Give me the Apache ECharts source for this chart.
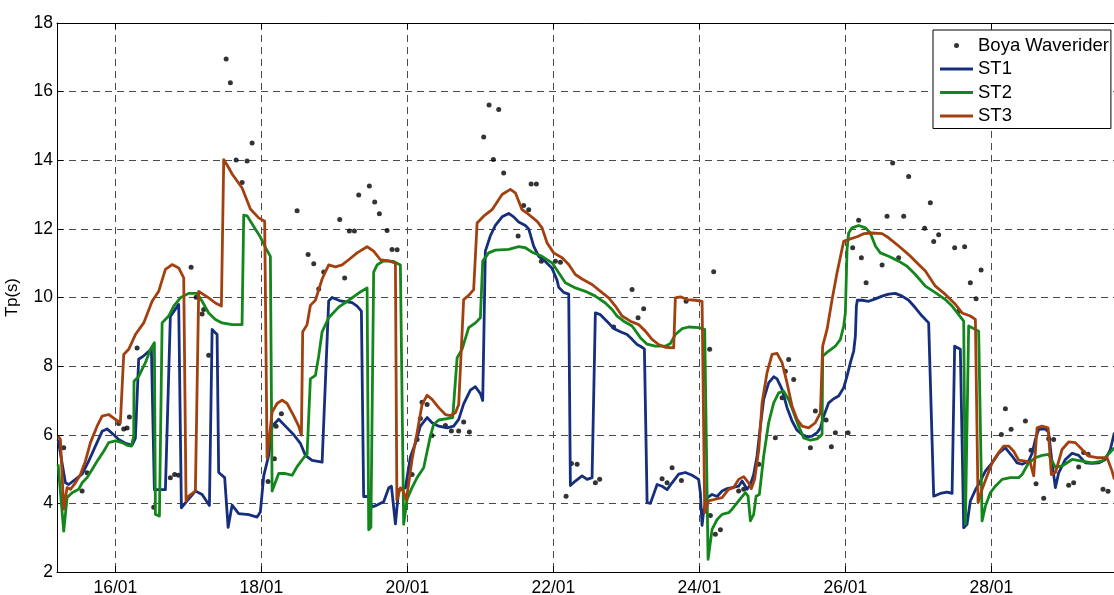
<!DOCTYPE html>
<html>
<head>
<meta charset="utf-8">
<title>Tp(s)</title>
<script src="https://cdn.jsdelivr.net/npm/echarts@6/dist/echarts.min.js"></script>
<style>
  html, body { margin: 0; padding: 0; background: #fff; }
  #chart { width: 1114px; height: 595px; }
</style>
</head>
<body>
<div id="chart"></div>
<script>
// Peak period Tp (s) in January; x values are day of month (fractional days).
const tickDays = [16, 18, 20, 22, 24, 26, 28];
const dayMin = 15.2;
const dayMax = 29.68;

// Buoy observations [day, Tp]
const buoy = [
  [15.292,5.62],[15.544,4.36],[15.612,4.89],[16.045,6.33],[16.114,6.17],[16.160,6.2],[16.192,6.52],
  [16.297,8.53],[16.525,3.89],[16.753,4.75],[16.812,4.84],[16.867,4.82],[17.037,10.88],[17.106,10.01],
  [17.188,9.52],[17.210,9.65],[17.278,8.32],[17.517,16.95],[17.575,16.26],[17.654,14.01],[17.736,13.35],
  [17.804,13.98],[17.873,14.5],[18.092,4.64],[18.178,5.3],[18.201,6.25],[18.274,6.61],[18.489,12.53],
  [18.640,11.25],[18.717,10.98],[18.785,10.25],[18.854,10.74],[19.073,12.27],[19.141,10.57],[19.205,11.94],
  [19.274,11.94],[19.333,12.99],[19.479,13.25],[19.552,12.78],[19.616,12.44],[19.722,11.95],[19.790,11.4],
  [19.859,11.39],[20.064,4.84],[20.133,5.86],[20.178,6.47],[20.201,6.95],[20.270,6.88],[20.338,5.98],
  [20.521,6.27],[20.603,6.11],[20.703,6.11],[20.771,6.37],[20.849,6.08],[21.045,14.68],[21.119,15.61],
  [21.178,14.02],[21.251,15.48],[21.319,13.63],[21.517,11.79],[21.593,12.68],[21.662,12.56],[21.695,13.31],
  [21.767,13.31],[21.836,11.06],[22.027,11.06],[22.096,11.03],[22.174,4.21],[22.247,5.16],[22.325,5.14],
  [22.575,4.6],[22.634,4.7],[22.826,9.14],[23.078,10.23],[23.160,9.41],[23.237,9.67],[23.489,4.72],
  [23.558,4.6],[23.626,5.04],[23.754,4.67],[23.818,9.89],[24.141,8.49],[24.151,3.65],[24.196,10.75],
  [24.219,3.1],[24.288,3.23],[24.538,4.36],[24.607,4.41],[24.814,5.14],[25.041,5.91],[25.133,7.08],
  [25.178,7.85],[25.223,8.19],[25.292,7.61],[25.521,5.62],[25.589,6.69],[25.736,6.43],[25.808,5.65],
  [25.863,6.06],[26.037,6.06],[26.100,11.45],[26.182,12.25],[26.219,11.16],[26.284,10.43],[26.503,10.95],
  [26.571,12.37],[26.648,13.92],[26.730,11.16],[26.799,12.37],[26.867,13.53],[27.086,12.02],[27.164,12.76],
  [27.210,11.63],[27.278,11.83],[27.497,11.45],[27.552,9.6],[27.634,11.48],[27.712,10.43],[27.791,9.96],
  [27.859,10.8],[28.137,6.01],[28.192,6.76],[28.270,6.16],[28.466,6.4],[28.544,5.55],[28.612,4.57],
  [28.717,4.15],[28.785,5.88],[28.853,5.86],[29.059,4.53],[29.127,4.6],[29.196,5.06],[29.264,5.48],
  [29.325,5.43],[29.530,4.41],[29.598,4.35],[29.685,9.02]
];

// Model run ST1 [day, Tp]
const st1 = [
  [15.215,5.86],[15.315,4.6],[15.36,4.55],[15.452,4.7],[15.544,4.85],[15.634,5.23],[15.726,5.67],
  [15.818,6.1],[15.886,6.17],[15.977,6.0],[16.045,5.86],[16.137,5.75],[16.229,5.7],[16.274,5.9],
  [16.319,8.2],[16.388,8.3],[16.493,8.5],[16.534,4.4],[16.685,4.4],[16.753,9.45],[16.867,9.8],
  [16.904,3.87],[16.982,4.07],[17.096,4.36],[17.188,4.26],[17.288,3.94],[17.325,9.07],[17.393,8.92],
  [17.415,4.9],[17.497,4.75],[17.544,3.3],[17.599,3.95],[17.689,3.7],[17.826,3.67],[17.941,3.6],
  [17.986,3.75],[18.032,4.8],[18.1,5.4],[18.147,6.25],[18.237,6.45],[18.352,6.2],[18.443,6.0],
  [18.534,5.75],[18.603,5.4],[18.695,5.25],[18.832,5.2],[18.922,9.9],[18.968,10.0],[19.082,9.9],
  [19.243,9.85],[19.311,9.75],[19.37,9.6],[19.401,4.2],[19.462,4.2],[19.517,3.9],[19.585,3.95],
  [19.675,4.05],[19.744,4.45],[19.781,4.5],[19.836,3.4],[19.881,4.4],[19.973,4.45],[20.041,5.35],
  [20.11,5.75],[20.178,6.25],[20.27,6.5],[20.338,6.35],[20.429,6.25],[20.544,6.2],[20.634,6.25],
  [20.703,6.45],[20.771,6.9],[20.863,7.3],[20.932,7.4],[21.0,7.2],[21.032,7.0],[21.068,11.35],
  [21.137,11.8],[21.205,12.1],[21.297,12.35],[21.388,12.45],[21.456,12.35],[21.525,12.2],[21.616,12.1],
  [21.662,12.0],[21.73,11.5],[21.799,11.2],[21.89,11.05],[21.982,10.85],[22.051,10.5],[22.073,10.3],
  [22.141,10.15],[22.21,10.1],[22.233,4.52],[22.301,4.65],[22.393,4.8],[22.462,4.7],[22.53,4.75],
  [22.575,9.55],[22.644,9.5],[22.736,9.3],[22.826,9.1],[22.918,9.0],[23.01,8.92],[23.078,8.78],
  [23.147,8.63],[23.192,8.58],[23.247,8.5],[23.284,4.02],[23.329,4.0],[23.421,4.55],[23.489,4.5],
  [23.558,4.4],[23.626,4.6],[23.717,4.85],[23.808,4.9],[23.9,4.82],[23.99,4.7],[24.014,4.3],
  [24.037,3.36],[24.059,3.78],[24.106,4.16],[24.174,4.26],[24.243,4.2],[24.311,4.36],[24.38,4.43],
  [24.448,4.46],[24.538,4.5],[24.585,4.65],[24.654,4.41],[24.699,4.55],[24.744,4.84],[24.79,5.38],
  [24.836,6.25],[24.881,7.03],[24.949,7.51],[25.018,7.69],[25.064,7.63],[25.133,7.32],[25.201,6.79],
  [25.27,6.4],[25.338,6.13],[25.407,6.01],[25.475,5.94],[25.544,5.96],[25.612,6.06],[25.658,6.2],
  [25.703,6.54],[25.771,6.93],[25.84,7.05],[25.908,7.13],[25.977,7.37],[26.023,7.71],[26.069,8.1],
  [26.114,8.44],[26.137,8.87],[26.151,9.75],[26.164,9.92],[26.229,9.92],[26.319,9.89],[26.411,9.96],
  [26.503,10.04],[26.593,10.1],[26.685,10.12],[26.777,10.04],[26.867,9.92],[26.959,9.7],[27.051,9.46],
  [27.141,9.26],[27.21,4.21],[27.301,4.29],[27.393,4.33],[27.462,4.29],[27.497,8.58],[27.575,8.49],
  [27.621,3.29],[27.667,3.39],[27.712,4.07],[27.781,4.39],[27.849,4.65],[27.918,4.94],[28.01,5.18],
  [28.1,5.46],[28.192,5.62],[28.284,5.38],[28.352,5.18],[28.421,5.14],[28.511,5.23],[28.558,5.46],
  [28.603,5.86],[28.648,6.16],[28.74,6.17],[28.785,6.06],[28.832,5.18],[28.877,4.46],[28.922,4.89],
  [29.014,5.28],[29.106,5.46],[29.196,5.4],[29.288,5.18],[29.38,5.17],[29.47,5.18],[29.562,5.28],
  [29.63,5.57],[29.685,6.06]
];

// Model run ST2 [day, Tp]
const st2 = [
  [15.215,5.14],[15.292,3.19],[15.338,4.17],[15.407,4.31],[15.497,4.41],[15.544,4.6],[15.612,4.75],
  [15.681,4.99],[15.749,5.23],[15.84,5.52],[15.908,5.77],[16.0,5.82],[16.092,5.77],[16.16,5.69],
  [16.219,5.67],[16.251,5.96],[16.255,7.56],[16.319,7.7],[16.411,8.1],[16.48,8.49],[16.534,8.68],
  [16.548,3.68],[16.603,3.63],[16.64,9.26],[16.73,9.46],[16.799,9.75],[16.89,9.99],[17.004,10.12],
  [17.119,10.12],[17.188,9.89],[17.278,9.55],[17.37,9.36],[17.462,9.26],[17.599,9.21],[17.735,9.21],
  [17.758,12.4],[17.804,12.38],[17.895,12.07],[17.986,11.76],[18.055,11.46],[18.123,11.2],[18.147,4.36],
  [18.237,4.87],[18.329,4.87],[18.421,4.82],[18.489,5.07],[18.58,5.33],[18.626,5.43],[18.671,7.63],
  [18.74,7.73],[18.785,8.29],[18.832,9.0],[18.922,9.41],[19.059,9.72],[19.196,9.92],[19.333,10.13],
  [19.448,10.28],[19.47,3.23],[19.5,3.3],[19.538,10.74],[19.585,10.95],[19.675,11.07],[19.812,11.05],
  [19.904,10.95],[19.949,3.39],[19.996,4.12],[20.064,4.46],[20.133,4.75],[20.223,5.04],[20.315,5.96],
  [20.36,6.3],[20.429,6.43],[20.544,6.47],[20.621,6.5],[20.681,8.24],[20.749,8.49],[20.84,9.12],
  [20.932,9.26],[21.0,9.41],[21.032,11.06],[21.114,11.3],[21.205,11.38],[21.388,11.4],[21.525,11.48],
  [21.616,11.45],[21.708,11.32],[21.845,11.2],[21.982,11.01],[22.073,10.72],[22.164,10.43],[22.301,10.28],
  [22.438,10.18],[22.575,10.04],[22.712,9.84],[22.804,9.65],[22.873,9.46],[22.963,9.31],[23.078,9.17],
  [23.192,8.83],[23.284,8.64],[23.397,8.58],[23.534,8.58],[23.603,8.66],[23.671,8.92],[23.763,9.09],
  [23.853,9.14],[23.99,9.12],[24.073,9.07],[24.119,2.37],[24.174,3.24],[24.243,3.53],[24.311,3.68],
  [24.401,3.73],[24.448,3.83],[24.538,4.07],[24.63,4.31],[24.667,4.21],[24.699,3.49],[24.744,3.68],
  [24.777,4.21],[24.822,4.26],[24.881,5.38],[24.949,6.35],[25.018,6.93],[25.086,7.22],[25.155,7.27],
  [25.223,7.03],[25.292,6.64],[25.36,6.25],[25.429,5.91],[25.521,5.84],[25.612,5.88],[25.681,6.01],
  [25.689,8.29],[25.771,8.44],[25.863,8.58],[25.932,8.78],[25.977,9.17],[26.0,9.55],[26.023,11.4],
  [26.045,11.88],[26.092,12.03],[26.182,12.1],[26.274,12.03],[26.342,11.88],[26.411,11.5],[26.479,11.3],
  [26.593,11.2],[26.73,11.06],[26.845,10.91],[26.959,10.67],[27.096,10.33],[27.233,10.14],[27.37,9.94],
  [27.462,9.75],[27.552,9.5],[27.621,9.31],[27.644,3.39],[27.689,9.17],[27.826,9.02],[27.873,3.49],
  [27.918,3.92],[27.986,4.31],[28.055,4.5],[28.147,4.7],[28.26,4.75],[28.374,4.75],[28.421,4.84],
  [28.511,5.18],[28.603,5.33],[28.695,5.4],[28.785,5.43],[28.877,5.05],[28.968,5.09],[29.106,5.28],
  [29.242,5.23],[29.38,5.18],[29.517,5.23],[29.685,5.62]
];

// Model run ST3 [day, Tp]
const st3 = [
  [15.215,5.96],[15.247,5.86],[15.292,3.83],[15.338,4.46],[15.384,4.41],[15.452,4.6],[15.521,4.84],
  [15.589,5.23],[15.658,5.77],[15.749,6.25],[15.818,6.54],[15.908,6.59],[16.0,6.45],[16.068,6.35],
  [16.114,8.34],[16.182,8.49],[16.274,8.92],[16.388,9.26],[16.503,9.89],[16.593,10.18],[16.685,10.82],
  [16.777,10.96],[16.867,10.86],[16.936,10.57],[16.968,4.07],[17.004,4.21],[17.096,4.36],[17.141,10.18],
  [17.278,9.99],[17.37,9.84],[17.452,9.75],[17.484,14.02],[17.552,13.78],[17.599,13.6],[17.736,13.19],
  [17.849,12.58],[17.963,12.32],[18.045,12.22],[18.078,5.33],[18.147,6.66],[18.215,6.91],[18.284,7.01],
  [18.352,6.91],[18.443,6.55],[18.511,6.25],[18.548,5.99],[18.566,9.0],[18.626,9.21],[18.671,9.77],
  [18.74,9.92],[18.832,10.54],[18.922,10.95],[19.014,10.89],[19.106,10.95],[19.196,11.1],[19.311,11.3],
  [19.448,11.48],[19.538,11.35],[19.63,11.1],[19.744,11.07],[19.836,11.0],[19.856,4.1],[19.904,4.45],
  [19.945,4.35],[19.986,4.1],[20.064,5.28],[20.133,6.06],[20.201,6.88],[20.27,7.15],[20.338,7.03],
  [20.429,6.79],[20.521,6.59],[20.589,6.56],[20.658,6.64],[20.703,6.88],[20.771,9.94],[20.84,10.06],
  [20.908,10.23],[20.955,12.17],[21.045,12.37],[21.16,12.56],[21.297,13.0],[21.411,13.15],[21.479,13.05],
  [21.571,12.56],[21.662,12.42],[21.777,12.22],[21.845,12.03],[21.914,11.59],[22.004,11.3],[22.119,11.16],
  [22.21,10.96],[22.301,10.67],[22.393,10.54],[22.53,10.38],[22.667,10.14],[22.758,9.99],[22.849,9.75],
  [22.941,9.46],[23.055,9.31],[23.168,9.21],[23.26,9.02],[23.352,8.78],[23.442,8.63],[23.534,8.55],
  [23.648,8.53],[23.671,9.99],[23.74,10.02],[23.832,9.94],[23.945,9.92],[24.037,9.89],[24.073,3.73],
  [24.127,4.07],[24.219,4.12],[24.311,4.17],[24.401,4.41],[24.47,4.46],[24.538,4.7],[24.607,4.78],
  [24.675,4.6],[24.712,4.43],[24.757,4.7],[24.814,5.57],[24.859,6.93],[24.927,7.81],[24.996,8.34],
  [25.064,8.37],[25.133,8.1],[25.201,7.51],[25.27,6.83],[25.338,6.45],[25.407,6.25],[25.497,6.2],
  [25.589,6.35],[25.658,6.64],[25.689,8.58],[25.749,9.07],[25.818,9.94],[25.886,10.72],[25.977,11.64],
  [26.069,11.71],[26.16,11.77],[26.251,11.86],[26.366,11.88],[26.503,11.86],[26.593,11.74],[26.73,11.5],
  [26.867,11.25],[27.004,10.96],[27.096,10.77],[27.233,10.33],[27.37,10.09],[27.507,9.8],[27.599,9.55],
  [27.712,9.46],[27.781,9.36],[27.818,4.02],[27.873,4.41],[27.941,4.8],[28.01,5.18],[28.1,5.48],
  [28.169,5.67],[28.237,5.67],[28.306,5.52],[28.374,5.26],[28.466,5.23],[28.534,5.18],[28.58,4.8],
  [28.626,6.2],[28.695,6.25],[28.777,6.2],[28.822,4.84],[28.877,4.89],[28.968,5.57],[29.059,5.79],
  [29.151,5.77],[29.242,5.57],[29.333,5.38],[29.448,5.33],[29.585,5.33],[29.654,4.94],[29.685,4.7]
];

const FONT = 'Liberation Sans, Arial, Helvetica, sans-serif';
const gridDash = { color: '#4a4a4a', width: 1, type: [7, 5] };
// Legend swatch for the model runs: a plain 33x3 bar
const lineIcon = 'path://M0,0H33V3H0Z';

function dayLabel(v) {
  const d = Math.round(v);
  return (d < 10 ? '0' : '') + d + '/01';
}

const lineSeries = (name, data, color) => ({
  name: name,
  type: 'line',
  data: data,
  symbol: 'none',
  showSymbol: false,
  smooth: false,
  clip: true,
  z: 3,
  lineStyle: { color: color, width: 2.8, join: 'round' },
  itemStyle: { color: color }
});

const chart = echarts.init(document.getElementById('chart'), null, { renderer: 'canvas' });

chart.setOption({
  animation: false,
  backgroundColor: '#ffffff',
  textStyle: { fontFamily: FONT, color: '#000' },
  grid: { left: 57, right: 0, top: 23, bottom: 23, containLabel: false, outerBoundsMode: 'none' },
  legend: {
    orient: 'vertical',
    left: 933,
    top: 30,
    data: [
      { name: 'Boya Waverider' },
      { name: 'ST1', icon: lineIcon },
      { name: 'ST2', icon: lineIcon },
      { name: 'ST3', icon: lineIcon }
    ],
    itemWidth: 33,
    itemHeight: 5,
    itemGap: 4.5,
    padding: [6, 2, 3, 7],
    backgroundColor: '#ffffff',
    borderColor: '#000000',
    borderWidth: 1,
    borderRadius: 0,
    textStyle: { fontFamily: FONT, fontSize: 18.5, color: '#000' },
    selectedMode: false,
    z: 10
  },
  xAxis: [
    {
      type: 'value',
      position: 'bottom',
      min: dayMin,
      max: dayMax,
      splitNumber: 7,
      axisLine: { show: true, onZero: false, lineStyle: { color: '#000', width: 1 } },
      axisTick: { show: true, inside: true, length: 6, customValues: tickDays, lineStyle: { color: '#000' } },
      axisLabel: {
        customValues: tickDays,
        formatter: dayLabel,
        fontFamily: FONT, fontSize: 17.5, color: '#000', margin: 7
      },
      splitLine: { show: true, lineStyle: gridDash }
    },
    {
      type: 'value',
      position: 'top',
      min: dayMin,
      max: dayMax,
      splitNumber: 7,
      axisLine: { show: true, onZero: false, lineStyle: { color: '#000', width: 1 } },
      axisTick: { show: true, inside: true, length: 6, customValues: tickDays, lineStyle: { color: '#000' } },
      axisLabel: { show: false },
      splitLine: { show: false }
    }
  ],
  yAxis: {
    type: 'value',
    min: 2,
    max: 18,
    interval: 2,
    name: 'Tp(s)',
    nameLocation: 'middle',
    nameRotate: 90,
    nameGap: 36,
    nameTextStyle: { fontFamily: FONT, fontSize: 16.5, color: '#000' },
    axisLine: { show: true, onZero: false, lineStyle: { color: '#000', width: 1 } },
    axisTick: { show: true, inside: true, length: 6, lineStyle: { color: '#000' } },
    axisLabel: { fontFamily: FONT, fontSize: 17.5, color: '#000', margin: 4 },
    splitLine: { show: true, lineStyle: gridDash }
  },
  series: [
    {
      name: 'Boya Waverider',
      type: 'scatter',
      data: buoy,
      symbol: 'circle',
      symbolSize: 5,
      z: 2,
      itemStyle: { color: '#000000' }
    },
    lineSeries('ST1', st1, '#152f7c'),
    lineSeries('ST2', st2, '#13871b'),
    lineSeries('ST3', st3, '#a2400f')
  ]
});
</script>
</body>
</html>
